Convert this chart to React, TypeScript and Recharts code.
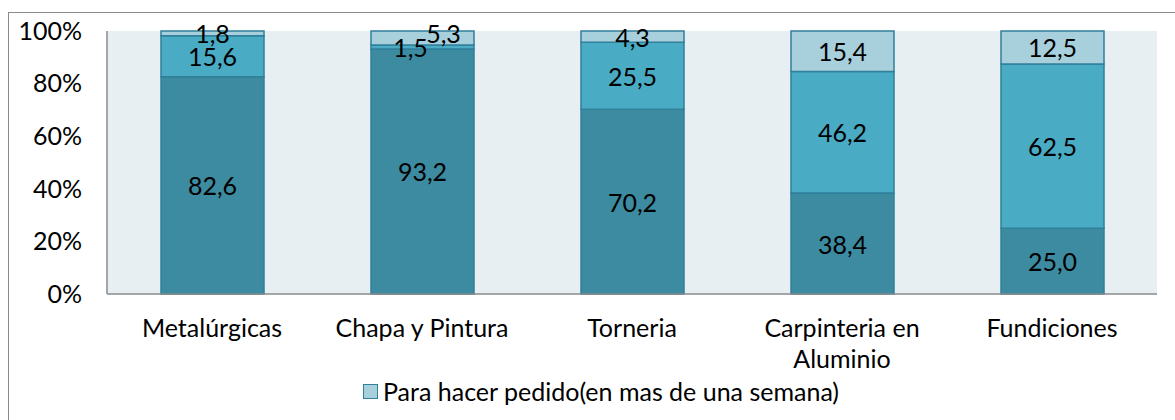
import { BarChart, Bar, XAxis, YAxis, CartesianGrid, LabelList } from 'recharts';

const categories = ['Metalúrgicas', 'Chapa y Pintura', 'Torneria', 'Carpinteria en Aluminio', 'Fundiciones'];
const seriesNames = ['En el momento', 'Dentro de la semana', 'Para hacer pedido(en mas de una semana)'];
const enElMomento = [82.6, 93.2, 70.2, 38.4, 25.0];
const dentroSemana = [15.6, 1.5, 25.5, 46.2, 62.5];
const masDeUnaSemana = [1.8, 5.3, 4.3, 15.4, 12.5];
const yTicks = [0, 20, 40, 60, 80, 100];

const data = categories.map((name, i) => ({
  name,
  a: enElMomento[i],
  b: dentroSemana[i],
  c: masDeUnaSemana[i],
}));

// Excel nudged a couple of overlapping labels on the thin segments
const nudges: Record<string, Record<number, [number, number]>> = {
  b: { 1: [-12, 0] },
  c: { 1: [21, -5] },
};

const FONT = 'Lato, "Noto Sans", sans-serif';
const FS = 25;

const fmt = (v: number) => v.toFixed(1).replace('.', ',');

let ctx: CanvasRenderingContext2D | null = null;
const measure = (s: string) => {
  if (!ctx) ctx = document.createElement('canvas').getContext('2d');
  if (!ctx) return s.length * FS * 0.5;
  ctx.font = `${FS}px Lato`;
  return ctx.measureText(s).width;
};

const wrap = (s: string, maxW: number) => {
  const lines: string[] = [];
  let cur = '';
  for (const w of s.split(' ')) {
    const next = cur ? `${cur} ${w}` : w;
    if (cur && measure(next) > maxW) {
      lines.push(cur);
      cur = w;
    } else {
      cur = next;
    }
  }
  if (cur) lines.push(cur);
  return lines;
};

const makeLabel = (key: string) => (props: any) => {
  const { x, y, width, height, value, index } = props;
  const [dx, dy] = nudges[key]?.[index] ?? [0, 0];
  return (
    <text
      x={x + width / 2 + dx}
      y={y + height / 2 + dy}
      textAnchor="middle"
      dominantBaseline="central"
      fill="#000"
      fontSize={FS}
      fontFamily={FONT}
    >
      {fmt(value)}
    </text>
  );
};

const XTick = (props: any) => {
  const { x, y, payload } = props;
  const lines = wrap(String(payload.value), 200);
  return (
    <text x={x} y={y + 35} textAnchor="middle" fill="#000" fontSize={FS} fontFamily={FONT}>
      {lines.map((l, i) => (
        <tspan key={i} x={x} dy={i === 0 ? 0 : 31}>
          {l}
        </tspan>
      ))}
    </text>
  );
};

export default function App() {
  return (
    <div style={{ position: 'absolute', left: 0, top: 0, width: 1175, height: 420, background: '#fff', overflow: 'hidden' }}>
      <div
        style={{
          position: 'absolute',
          left: 8,
          top: 12,
          width: 1200,
          height: 450,
          border: '1.5px solid #8a8a8a',
        }}
      />
      <div style={{ position: 'absolute', left: 0, top: 0 }}>
        <BarChart
          width={1175}
          height={420}
          data={data}
          margin={{ top: 31, right: 18, left: 0, bottom: 66 }}
        >
          <CartesianGrid horizontal={false} vertical={false} fill="#e8eff3" stroke="none" />
          <XAxis
            dataKey="name"
            height={60}
            tick={<XTick />}
            tickLine={false}
            axisLine={{ stroke: '#8a8a8a', strokeWidth: 1.5 }}
            interval={0}
          />
          <YAxis
            width={107}
            domain={[0, 100]}
            ticks={yTicks}
            tickFormatter={(v: number) => `${v}%`}
            tickLine={false}
            tickSize={0}
            tickMargin={25}
            axisLine={{ stroke: '#8a8a8a', strokeWidth: 1.5 }}
            tick={{ fill: '#000', fontSize: FS, fontFamily: FONT }}
          />
          <Bar dataKey="a" name={seriesNames[0]} stackId="s" fill="#3c8ba1" stroke="#31809a" strokeWidth={1.5} barSize={103} isAnimationActive={false}>
            <LabelList dataKey="a" content={makeLabel('a')} />
          </Bar>
          <Bar dataKey="b" name={seriesNames[1]} stackId="s" fill="#4aabc5" stroke="#31809a" strokeWidth={1.5} barSize={103} isAnimationActive={false}>
            <LabelList dataKey="b" content={makeLabel('b')} />
          </Bar>
          <Bar dataKey="c" name={seriesNames[2]} stackId="s" fill="#a8cfdc" stroke="#31809a" strokeWidth={1.5} barSize={103} isAnimationActive={false}>
            <LabelList dataKey="c" content={makeLabel('c')} />
          </Bar>
        </BarChart>
      </div>
      <div
        style={{
          position: 'absolute',
          left: 363,
          top: 376,
          display: 'flex',
          alignItems: 'center',
          fontFamily: FONT,
          fontSize: FS,
          color: '#000',
          whiteSpace: 'nowrap',
        }}
      >
        <span
          style={{
            display: 'inline-block',
            width: 13,
            height: 13,
            background: '#a8cfdc',
            border: '1.5px solid #31809a',
            marginRight: 5,
          }}
        />
        {seriesNames[2]}
      </div>
    </div>
  );
}
